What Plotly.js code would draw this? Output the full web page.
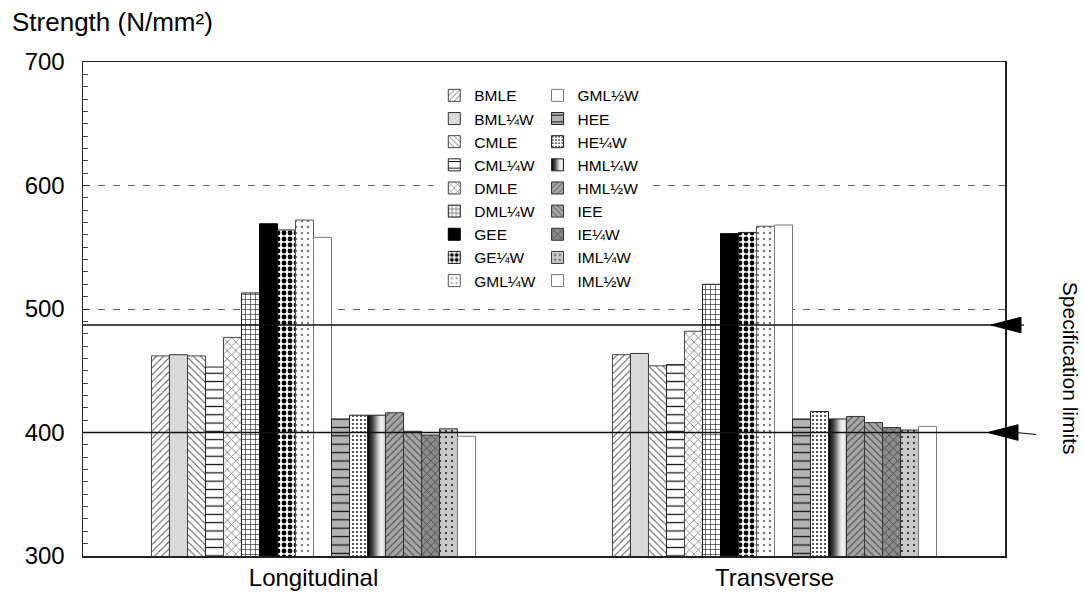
<!DOCTYPE html>
<html>
<head>
<meta charset="utf-8">
<script src="https://cdn.plot.ly/plotly-3.0.1.min.js"></script>
<style>
  html, body { margin: 0; padding: 0; background: #fff; }
  #chart { width: 1083px; height: 610px; }
  .shaded-fill { fill: url(#shadeGrad) !important; }
</style>
</head>
<body>
<svg width="0" height="0" style="position:absolute">
  <defs>
    <linearGradient id="shadeGrad" x1="0" x2="1" y1="0" y2="0">
      <stop offset="0" stop-color="#000000"/>
      <stop offset="0.3" stop-color="#4a4a4a"/>
      <stop offset="0.65" stop-color="#dcdcdc"/>
      <stop offset="0.82" stop-color="#f6f6f6"/>
      <stop offset="1" stop-color="#bdbdbd"/>
    </linearGradient>
  </defs>
</svg>
<div id="chart"></div>
<script>
// Tensile strength by steel grade, for longitudinal and transverse test pieces
const groups = ['Longitudinal', 'Transverse'];
const seriesNames = [
  'BMLE', 'BML¼W', 'CMLE', 'CML¼W', 'DMLE', 'DML¼W', 'GEE', 'GE¼W', 'GML¼W',
  'GML½W', 'HEE', 'HE¼W', 'HML¼W', 'HML½W', 'IEE', 'IE¼W', 'IML¼W', 'IML½W'
];
const longitudinal = [462, 463, 462, 453, 477, 513, 569, 564, 572, 558, 411, 414, 414, 416, 401, 398, 403, 397];
const transverse   = [463, 464, 454, 455, 482, 520, 561, 562, 567, 568, 411, 417, 411, 413, 408, 404, 402, 405];
const specLimits = [487, 400];
const yRange = [300, 700];

// fill styles per series: background, hatch shape, hatch colour, hatch size, hatch solidity, outline
const fillStyles = [
  { bg: '#ffffff', shape: '/',  fg: '#555555', size: 5,   sol: 0.2,  line: '#444444' },
  { bg: '#d9d9d9', shape: '',   fg: '#000000', size: 6,   sol: 0.2,  line: '#333333' },
  { bg: '#ffffff', shape: '\\', fg: '#555555', size: 5,   sol: 0.2,  line: '#444444' },
  { bg: '#ffffff', shape: '-',  fg: '#111111', size: 8.3, sol: 0.15, line: '#222222' },
  { bg: '#ffffff', shape: 'x',  fg: '#777777', size: 6,   sol: 0.25, line: '#444444' },
  { bg: '#ffffff', shape: '+',  fg: '#111111', size: 5,   sol: 0.22, line: '#222222' },
  { bg: '#000000', shape: '',   fg: '#000000', size: 6,   sol: 0.2,  line: '#000000' },
  { bg: '#ffffff', shape: '.',  fg: '#000000', size: 6,   sol: 0.5,  line: '#222222' },
  { bg: '#ffffff', shape: '.',  fg: '#777777', size: 6,   sol: 0.12, line: '#555555' },
  { bg: '#ffffff', shape: '',   fg: '#000000', size: 6,   sol: 0.2,  line: '#777777' },
  { bg: '#b3b3b3', shape: '-',  fg: '#111111', size: 8.4, sol: 0.15, line: '#222222' },
  { bg: '#ffffff', shape: '.',  fg: '#111111', size: 4,   sol: 0.18, line: '#222222' },
  { bg: '#777777', shape: '',   fg: '#000000', size: 6,   sol: 0.2,  line: '#222222', gradient: true },
  { bg: '#a6a6a6', shape: '/',  fg: '#444444', size: 5,   sol: 0.2,  line: '#333333' },
  { bg: '#a6a6a6', shape: '\\', fg: '#444444', size: 5,   sol: 0.2,  line: '#333333' },
  { bg: '#8c8c8c', shape: 'x',  fg: '#444444', size: 6,   sol: 0.25, line: '#333333' },
  { bg: '#c8c8c8', shape: '.',  fg: '#222222', size: 6,   sol: 0.1,  line: '#333333' },
  { bg: '#ffffff', shape: '',   fg: '#000000', size: 6,   sol: 0.2,  line: '#777777' }
];

const FONT = 'Liberation Sans, Arial, Helvetica, sans-serif';

const traces = seriesNames.map((name, i) => {
  const s = fillStyles[i];
  const marker = { color: s.bg, line: { color: s.line, width: 1 } };
  if (s.shape) {
    marker.pattern = { shape: s.shape, fgcolor: s.fg, bgcolor: s.bg, size: s.size, solidity: s.sol };
  }
  return {
    type: 'bar',
    name: name,
    x: groups,
    y: [longitudinal[i], transverse[i]],
    marker: marker,
    legend: i < 9 ? 'legend' : 'legend2',
    hoverinfo: 'name+y'
  };
});

// specification limit lines with arrow markers just outside the right edge
const shapes = [];
specLimits.forEach((v, k) => {
  shapes.push({
    type: 'line', xref: 'paper', yref: 'y', x0: 0, x1: 1, y0: v, y1: v,
    line: { color: '#111', width: 1.5 }, layer: 'above'
  });
  const tip = k === 0 ? -14 : -17;
  const base = tip + 30;
  const tail = k === 0 ? base + 3 : base + 18;
  const drop = k === 0 ? 0 : -2;
  shapes.push({
    type: 'path', xref: 'paper', yref: 'y', xsizemode: 'pixel', ysizemode: 'pixel',
    xanchor: 1, yanchor: v,
    path: `M${tip},0 L${base},7.8 L${base},-7.8 Z`,
    fillcolor: '#000', line: { color: '#000', width: 1 }, layer: 'above'
  });
  shapes.push({
    type: 'path', xref: 'paper', yref: 'y', xsizemode: 'pixel', ysizemode: 'pixel',
    xanchor: 1, yanchor: v,
    path: `M${base - 2},0 L${tail},${drop}`,
    line: { color: '#000', width: 1.2 }, layer: 'above'
  });
});

const legendBase = {
  yanchor: 'top', xanchor: 'left', bgcolor: '#ffffff', borderwidth: 0,
  font: { family: FONT, size: 15.5, color: '#000' }, tracegroupgap: 0, itemwidth: 30
};

const layout = {
  width: 1083, height: 610,
  margin: { l: 83, r: 78, t: 62, b: 54 },
  paper_bgcolor: '#ffffff', plot_bgcolor: '#ffffff',
  font: { family: FONT, color: '#000' },
  barmode: 'group', bargap: 0.297, bargroupgap: 0,
  showlegend: true,
  legend: Object.assign({ x: 0.381, y: 0.966 }, legendBase),
  legend2: Object.assign({ x: 0.493, y: 0.966 }, legendBase),
  xaxis: {
    type: 'category', range: [-0.5, 1.5],
    showline: true, linecolor: '#222', linewidth: 1.5, mirror: true,
    ticks: '', showgrid: false, zeroline: false,
    tickfont: { family: FONT, size: 24, color: '#000' }
  },
  yaxis: {
    range: yRange, tick0: 0, dtick: 100,
    showline: true, linecolor: '#222', linewidth: 1.5, mirror: true,
    ticks: 'inside', ticklen: 6, tickcolor: '#222', tickwidth: 1,
    ticklabelstandoff: 12,
    showgrid: true, gridcolor: '#666', gridwidth: 1, griddash: '7px,8px',
    zeroline: false,
    minor: { dtick: 10, ticks: 'inside', ticklen: 5, tickcolor: '#444', showgrid: false },
    tickfont: { family: FONT, size: 24, color: '#000' }
  },
  shapes: shapes,
  annotations: [
    {
      text: 'Strength (N/mm²)', xref: 'paper', yref: 'paper',
      x: -0.079, y: 1.081, xanchor: 'left', yanchor: 'middle', showarrow: false,
      font: { family: FONT, size: 26, color: '#000' }
    },
    {
      text: 'Specification limits', xref: 'paper', yref: 'paper',
      x: 1.0705, y: 0.381, xanchor: 'center', yanchor: 'middle', showarrow: false,
      textangle: 90, font: { family: FONT, size: 21, color: '#000' }
    }
  ]
};

// tag the bars and legend swatch of the shaded series so the gradient class applies
function applyShading(gd) {
  const barTraces = gd.querySelectorAll('.barlayer .trace');
  fillStyles.forEach((s, i) => {
    if (!s.gradient) return;
    if (barTraces[i]) barTraces[i].querySelectorAll('path').forEach(p => p.classList.add('shaded-fill'));
    gd.querySelectorAll('g.traces').forEach(item => {
      const d = item.__data__;
      const tr = d && d[0] && d[0].trace;
      const txt = item.querySelector('text');
      const match = (tr && tr.index === i) || (txt && txt.textContent.trim() === seriesNames[i]);
      if (match) {
        item.querySelectorAll('.legendpoints path').forEach(p => p.classList.add('shaded-fill'));
      }
    });
  });
}

const gd = document.getElementById('chart');
Plotly.newPlot(gd, traces, layout, { displayModeBar: false, staticPlot: true }).then(() => {
  applyShading(gd);
  gd.on('plotly_afterplot', () => applyShading(gd));
  [0, 50, 200, 500].forEach(t => setTimeout(() => applyShading(gd), t));
});
</script>
</body>
</html>
